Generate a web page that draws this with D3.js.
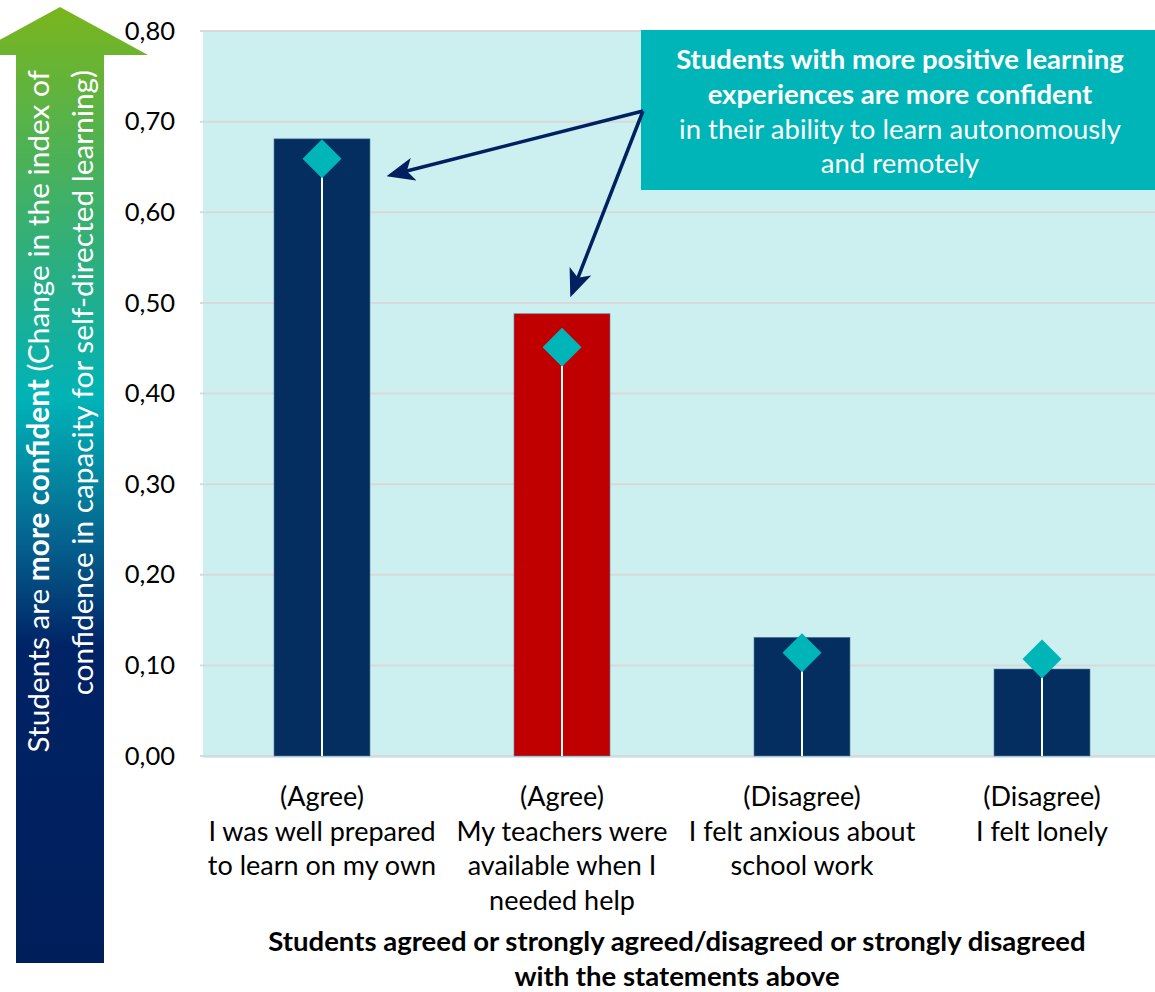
<!DOCTYPE html>
<html><head><meta charset="utf-8">
<script src="https://cdn.jsdelivr.net/npm/d3@7"></script>
<style>body{margin:0;background:#fff;} svg{display:block;font-family:Lato,"Open Sans",sans-serif;}</style>
</head><body><div id="chart"></div>
<script>
const categories = ["c1","c2","c3","c4"];
const labelLines = [
  ["(Agree)","I was well prepared","to learn on my own"],
  ["(Agree)","My teachers were","available when I","needed help"],
  ["(Disagree)","I felt anxious about","school work"],
  ["(Disagree)","I felt lonely"]
];
const barValues = [0.681, 0.488, 0.131, 0.096];
const diamondValues = [0.659, 0.451, 0.114, 0.107];
const barColors = ["#032E5F","#C00000","#032E5F","#032E5F"];
const yTicks = [0,0.1,0.2,0.3,0.4,0.5,0.6,0.7,0.8];
const calloutBold = ["Students with more positive learning","experiences are more confident"];
const calloutNormal = ["in their ability to learn autonomously","and remotely"];
const xTitle = ["Students agreed or strongly agreed/disagreed or strongly disagreed","with the statements above"];

const W=1155,H=992;
const svg=d3.select("#chart").append("svg").attr("width",W).attr("height",H);
const defs=svg.append("defs");

const y=d3.scaleLinear().domain([0,0.8]).range([756,31]);
const x=d3.scaleBand().domain(categories).range([202,1162]).paddingInner(0.6).paddingOuter(0.3);

// plot background
svg.append("rect").attr("x",203).attr("y",y(0.8)).attr("width",W-203).attr("height",y(0)-y(0.8)+2).attr("fill","#CCEFEF");

// gridlines
svg.append("g").selectAll("line").data(yTicks).join("line")
  .attr("x1",200).attr("x2",W).attr("y1",d=>y(d)).attr("y2",d=>y(d))
  .attr("stroke","#D9D9D9").attr("stroke-width",2);

// y axis labels
const yAxis=d3.axisLeft(y).tickValues(yTicks).tickFormat(d=>d3.format(".2f")(d).replace(".",",")).tickSize(0).tickPadding(0);
const ga=svg.append("g").attr("transform","translate(175,0)").call(yAxis);
ga.select(".domain").remove();
ga.selectAll("text").attr("font-size",25.5).attr("fill","#000").attr("font-family","Lato,sans-serif");

// bars
svg.append("g").selectAll("rect").data(categories).join("rect")
  .attr("x",d=>x(d)).attr("width",x.bandwidth())
  .attr("y",(d,i)=>y(barValues[i])).attr("height",(d,i)=>y(0)-y(barValues[i]))
  .attr("fill",(d,i)=>barColors[i]).attr("stroke","#5B7FA6").attr("stroke-width",0.6);

// white lines
svg.append("g").selectAll("line").data(categories).join("line")
  .attr("x1",d=>x(d)+x.bandwidth()/2).attr("x2",d=>x(d)+x.bandwidth()/2)
  .attr("y1",(d,i)=>y(diamondValues[i])).attr("y2",y(0))
  .attr("stroke","#fff").attr("stroke-width",2);

// diamonds
const ds=19.5;
svg.append("g").selectAll("path").data(categories).join("path")
  .attr("transform",(d,i)=>`translate(${x(d)+x.bandwidth()/2},${y(diamondValues[i])})`)
  .attr("d",`M0,${-ds}L${ds},0L0,${ds}L${-ds},0Z`).attr("fill","#00B5B8");

// x labels
const xl=svg.append("g");
categories.forEach((c,i)=>{
  const t=xl.append("text").attr("x",x(c)+x.bandwidth()/2).attr("y",806).attr("text-anchor","middle").attr("font-size",27).attr("fill","#000");
  labelLines[i].forEach((l,j)=>t.append("tspan").attr("x",x(c)+x.bandwidth()/2).attr("dy",j?34.5:0).text(l));
});

// x title
const xt=svg.append("text").attr("x",677).attr("y",951).attr("text-anchor","middle").attr("font-size",27.5).attr("font-weight","bold").attr("fill","#000");
xTitle.forEach((l,j)=>xt.append("tspan").attr("x",677).attr("dy",j?35:0).text(l));

// callout box
svg.append("rect").attr("x",641).attr("y",30).attr("width",W-641).attr("height",160).attr("fill","#00B5B8");
const ct=svg.append("text").attr("text-anchor","middle").attr("font-size",27.5).attr("fill","#fff");
const cx=900;
calloutBold.forEach((l,j)=>ct.append("tspan").attr("x",cx).attr("y",69+j*35).attr("font-weight","bold").text(l));
calloutNormal.forEach((l,j)=>ct.append("tspan").attr("x",cx).attr("y",139+j*34).text(l));

// annotation arrows
defs.append("marker").attr("id","ah").attr("viewBox","0 0 12 10").attr("refX",10).attr("refY",5)
  .attr("markerWidth",28).attr("markerHeight",24).attr("orient","auto").attr("markerUnits","userSpaceOnUse")
  .append("path").attr("d","M0,0L12,5L0,10L3,5Z").attr("fill","#002060");
const a0=[643,111];
[[391,175],[572,293]].forEach(p=>{
  svg.append("line").attr("x1",a0[0]).attr("y1",a0[1]).attr("x2",p[0]).attr("y2",p[1])
    .attr("stroke","#002060").attr("stroke-width",3.5).attr("marker-end","url(#ah)");
});

// left gradient arrow
const lg=defs.append("linearGradient").attr("id","ag").attr("x1",0).attr("y1",0).attr("x2",0).attr("y2",1);
[[0,"#7AB51D"],[0.3,"#22AE8C"],[0.41,"#00B3B7"],[0.55,"#056791"],[0.67,"#002366"],[1,"#001E5A"]]
  .forEach(s=>lg.append("stop").attr("offset",s[0]).attr("stop-color",s[1]));
svg.append("path").attr("d","M60,7L148,55L104,55L104,963L16,963L16,55L-28,55Z")
  .attr("fill","url(#ag)");
const lt=svg.append("text").attr("transform","rotate(-90)").attr("text-anchor","end").attr("font-size",29.8).attr("fill","#fff");
const t1=lt.append("tspan").attr("x",-70).attr("y",49);
t1.append("tspan").text("Students are ");
t1.append("tspan").attr("font-weight","bold").text("more confident");
t1.append("tspan").text(" (Change in the index of");
lt.append("tspan").attr("x",-70).attr("y",93).text("confidence in capacity for self-directed learning)");
</script></body></html>
